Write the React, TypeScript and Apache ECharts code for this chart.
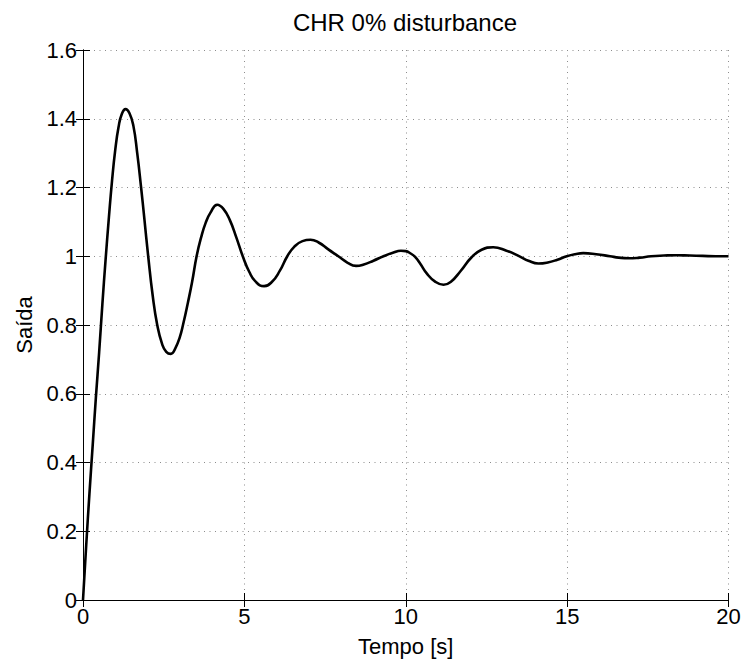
import React, { useEffect, useRef } from "react";
import * as echarts from "echarts";

const titleText = "CHR 0% disturbance";
const xName = "Tempo [s]";
const yName = "Saída";

const timeS = [
  0, 0.1, 0.2, 0.3, 0.4, 0.5, 0.6, 0.7, 0.8, 0.9, 1.0, 1.1, 1.2, 1.32, 1.44, 1.56, 1.68, 1.8, 1.9, 2.02,
  2.16, 2.3, 2.45, 2.58, 2.72, 2.86, 3.0, 3.11, 3.25, 3.38, 3.52, 3.66, 3.8, 3.95, 4.16, 4.35, 4.55, 4.75,
  4.95, 5.15, 5.35, 5.61, 5.85, 6.1, 6.33, 6.55, 6.8, 7.05, 7.3, 7.6, 7.91, 8.2, 8.46, 8.7, 9.0, 9.31,
  9.6, 9.85, 10.0, 10.15, 10.29, 10.45, 10.65, 10.9, 11.17, 11.4, 11.7, 12.04, 12.35, 12.71, 13.1, 13.54,
  13.8, 14.11, 14.4, 14.7, 14.99, 15.25, 15.5, 15.9, 16.33, 16.6, 16.9, 17.25, 17.6, 18.0, 18.4, 18.8,
  19.2, 19.6, 20,
];
const output = [
  0, 0.16, 0.31, 0.45, 0.59, 0.72, 0.86, 0.99, 1.11, 1.22, 1.31, 1.375, 1.413, 1.428, 1.416, 1.38, 1.3,
  1.2, 1.11, 1.0, 0.885, 0.8, 0.745, 0.722, 0.716, 0.732, 0.765, 0.805, 0.865, 0.925, 1.0, 1.055, 1.097,
  1.127, 1.15, 1.138, 1.105, 1.055, 1.0, 0.955, 0.926, 0.913, 0.925, 0.958, 1.0, 1.028, 1.044, 1.048,
  1.04, 1.02, 1.0, 0.981, 0.972, 0.976, 0.987, 1.0, 1.01, 1.016, 1.015, 1.008, 0.998, 0.978, 0.95, 0.927,
  0.917, 0.926, 0.957, 0.997, 1.019, 1.026, 1.017, 0.999, 0.987, 0.979, 0.982, 0.99, 1.0, 1.006, 1.009,
  1.006, 1.0, 0.996, 0.994, 0.996, 1.0, 1.002, 1.003, 1.002, 1.001, 1.0, 1.0,
];

const xTicks = [0, 5, 10, 15, 20];
const yTicks = [0, 0.2, 0.4, 0.6, 0.8, 1, 1.2, 1.4, 1.6];

export default function App() {
  const ref = useRef<HTMLDivElement>(null);
  useEffect(() => {
    if (!ref.current) return;
    const chart = echarts.init(ref.current, undefined, { renderer: "svg" });
    const font = "Liberation Sans, Arial, Helvetica, sans-serif";
    const data = timeS.map((t, i) => [t, output[i]]);
    const gridLine = { show: true, lineStyle: { color: "#8c8c8c", type: [1, 4.5] as any, width: 1 } };
    chart.setOption({
      animation: false,
      backgroundColor: "#ffffff",
      title: {
        text: titleText,
        left: 400,
        textAlign: "center",
        top: 5,
        textStyle: { fontFamily: font, fontSize: 24, fontWeight: "normal", color: "#000" },
      },
      grid: { left: 83, right: 15.5, top: 50, bottom: 57, containLabel: false },
      xAxis: [
        {
          type: "value",
          min: 0,
          max: 20,
          interval: 5,
          name: xName,
          nameLocation: "middle",
          nameGap: 35,
          nameTextStyle: { fontFamily: font, fontSize: 22, color: "#000" },
          axisLine: { show: true, lineStyle: { color: "#000", width: 1 } },
          axisTick: { show: true, inside: true, length: 7, lineStyle: { color: "#000" } },
          axisLabel: {
            fontFamily: font, fontSize: 22, color: "#000", margin: 5,
            formatter: (v: number) => (xTicks.includes(v) ? String(v) : ""),
          },
          splitLine: gridLine,
        },
        {
          type: "value",
          position: "top",
          min: 0,
          max: 20,
          interval: 5,
          axisLine: { show: true, lineStyle: { color: "#000", width: 1 } },
          axisTick: { show: true, inside: true, length: 7, lineStyle: { color: "#000" } },
          axisLabel: { show: false },
          splitLine: { show: false },
        },
      ],
      yAxis: [
        {
          type: "value",
          min: 0,
          max: 1.6,
          interval: 0.2,
          name: yName,
          nameLocation: "middle",
          nameGap: 47,
          nameTextStyle: { fontFamily: font, fontSize: 22, color: "#000" },
          axisLine: { show: true, lineStyle: { color: "#000", width: 1 } },
          axisTick: { show: true, inside: true, length: 7, lineStyle: { color: "#000" } },
          axisLabel: {
            fontFamily: font, fontSize: 22, color: "#000", margin: 6,
            formatter: (v: number) => {
              const r = Math.round(v * 10) / 10;
              return yTicks.includes(r) ? String(r) : "";
            },
          },
          splitLine: gridLine,
        },
        {
          type: "value",
          position: "right",
          min: 0,
          max: 1.6,
          interval: 0.2,
          axisLine: { show: true, lineStyle: { color: "#000", width: 1 } },
          axisTick: { show: true, inside: true, length: 7, lineStyle: { color: "#000" } },
          axisLabel: { show: false },
          splitLine: { show: false },
        },
      ],
      series: [
        {
          type: "line",
          data,
          smooth: 0.5,
          showSymbol: false,
          symbol: "none",
          lineStyle: { color: "#000", width: 2.6 },
          xAxisIndex: 0,
          yAxisIndex: 0,
        },
      ],
    });
    return () => chart.dispose();
  }, []);
  return <div ref={ref} style={{ width: 744, height: 662, position: "absolute", left: 0, top: 0 }} />;
}
